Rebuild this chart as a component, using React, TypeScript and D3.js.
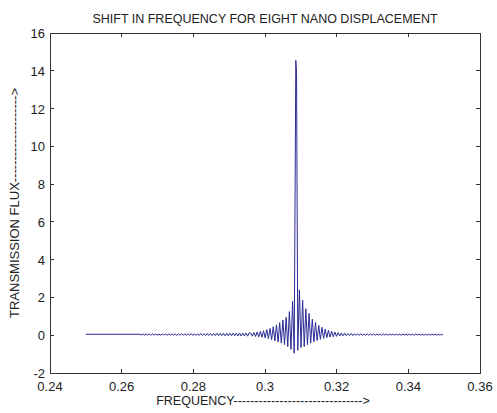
import React from 'react';
import * as d3 from 'd3';

// flat start of the trace
const flatFreq = [0.25, 0.265];
const flatFlux = [0.05, 0.05];

// small ripple before the resonance, sampled every 0.00045 from 0.265
const leftStart = 0.265;
const rippleStep = 0.00045;
const leftFlux = [
  0.06, 0.01, 0.07, 0.0, 0.07, 0.01, 0.06, 0.0, 0.07, 0.01,
  0.07, 0.0, 0.06, 0.0, 0.07, 0.01, 0.07, 0.0, 0.06, 0.0,
  0.07, 0.0, 0.07, -0.01, 0.07, 0.0, 0.08, 0.0, 0.07, -0.01,
  0.08, 0.0, 0.08, -0.01, 0.08, -0.01, 0.08, -0.01, 0.09, -0.01,
  0.08, -0.02, 0.09, -0.01, 0.09, -0.02, 0.09, -0.02, 0.1, -0.02,
  0.1, -0.02, 0.1, -0.03, 0.1, -0.03, 0.11, -0.03, 0.11, -0.03,
  0.11, -0.04, 0.12, -0.04, 0.11, -0.04, 0.12, -0.05, 0.12,
];

// resonance region
const centerFreq = [
  0.296, 0.29645, 0.2969, 0.29735, 0.2978, 0.29825, 0.2987, 0.29915, 0.2996, 0.30005,
  0.3005, 0.30095, 0.3014, 0.30185, 0.3023, 0.30275, 0.3032, 0.30365, 0.3041, 0.30455,
  0.305, 0.30545, 0.3059, 0.30635, 0.3068, 0.30725, 0.3077, 0.30815, 0.3086, 0.3088,
  0.30915, 0.3096, 0.31005, 0.3105, 0.31095, 0.3114, 0.31185, 0.3123, 0.31275, 0.3132,
  0.31365, 0.3141, 0.31455, 0.315, 0.31545, 0.3159, 0.31635, 0.3168, 0.31725, 0.3177,
  0.31815, 0.3186, 0.31905, 0.3195, 0.31995, 0.3204, 0.32085, 0.3213, 0.32175, 0.3222,
  0.32265, 0.3231,
];
const centerFlux = [
  0.12, -0.05, 0.14, -0.07, 0.17, -0.09, 0.2, -0.11, 0.24, -0.14,
  0.3, -0.18, 0.36, -0.24, 0.45, -0.3, 0.55, -0.36, 0.66, -0.42,
  0.8, -0.5, 0.95, -0.6, 1.25, -0.75, 1.8, -0.95, 14.55, 13.9,
  -0.8, 2.4, -0.65, 1.85, -0.6, 1.4, -0.5, 1.15, -0.42, 0.85,
  -0.35, 0.68, -0.28, 0.52, -0.22, 0.42, -0.17, 0.33, -0.13, 0.26,
  -0.1, 0.21, -0.08, 0.17, -0.06, 0.14, -0.04, 0.12, -0.03, 0.1,
  -0.02, 0.09,
];

// ripple after the resonance, sampled every 0.00045 from 0.3236
const rightStart = 0.3236;
const rightFlux = [
  -0.02, 0.09, -0.02, 0.08, -0.01, 0.08, -0.01, 0.08, -0.01, 0.07,
  0.0, 0.07, -0.01, 0.07, 0.0, 0.07, 0.0, 0.06, 0.0, 0.07,
  0.0, 0.06, 0.01, 0.06, 0.0, 0.06, 0.01, 0.06, 0.0, 0.06,
  0.01, 0.06, 0.0, 0.06, 0.01, 0.05, 0.0, 0.06, 0.01, 0.05,
  0.0, 0.06, 0.01, 0.05, 0.01, 0.06, 0.0, 0.05, 0.01, 0.05,
  0.0, 0.05, 0.01, 0.05, 0.01, 0.05, 0.0, 0.05, 0.02,
];

const xTicks = [0.24, 0.26, 0.28, 0.3, 0.32, 0.34, 0.36];
const yTicks = [-2, 0, 2, 4, 6, 8, 10, 12, 14, 16];

const W = 497;
const H = 413;
const margin = { left: 50, right: 17, top: 33, bottom: 40 };

const font = '"Liberation Sans", Arial, sans-serif';

export default function App() {
  const x = d3.scaleLinear().domain([0.24, 0.36]).range([margin.left, W - margin.right]);
  const y = d3.scaleLinear().domain([-2, 16]).range([H - margin.bottom, margin.top]);

  const points: [number, number][] = [
    ...flatFreq.map((f, i) => [f, flatFlux[i]] as [number, number]),
    ...leftFlux.map((v, i) => [leftStart + i * rippleStep, v] as [number, number]),
    ...centerFreq.map((f, i) => [f, centerFlux[i]] as [number, number]),
    ...rightFlux.map((v, i) => [rightStart + i * rippleStep, v] as [number, number]),
  ];

  const line = d3.line<[number, number]>()
    .x((d) => x(d[0]))
    .y((d) => y(d[1]));

  const x0 = margin.left;
  const x1 = W - margin.right;
  const y0 = H - margin.bottom;
  const y1 = margin.top;
  const tick = 4;

  return (
    <svg width={W} height={H} style={{ position: 'absolute', left: 0, top: 0, background: '#fff' }}>
      <text x={(x0 + x1) / 2} y={23} textAnchor="middle" fontFamily={font} fontSize={12.5} fill="#222">
        SHIFT IN FREQUENCY FOR EIGHT NANO DISPLACEMENT
      </text>

      <path d={line(points) || ''} fill="none" stroke="#2a2a96" strokeWidth={1} />

      <rect x={x0} y={y1} width={x1 - x0} height={y0 - y1} fill="none" stroke="#333" strokeWidth={1} shapeRendering="crispEdges" />

      {xTicks.map((t) => (
        <g key={'x' + t}>
          <line x1={x(t)} x2={x(t)} y1={y0} y2={y0 - tick} stroke="#333" shapeRendering="crispEdges" />
          <line x1={x(t)} x2={x(t)} y1={y1} y2={y1 + tick} stroke="#333" shapeRendering="crispEdges" />
          <text x={x(t)} y={y0 + 18} textAnchor="middle" fontFamily={font} fontSize={13} fill="#222">
            {String(t)}
          </text>
        </g>
      ))}

      {yTicks.map((t) => (
        <g key={'y' + t}>
          <line x1={x0} x2={x0 + tick} y1={y(t)} y2={y(t)} stroke="#333" shapeRendering="crispEdges" />
          <line x1={x1} x2={x1 - tick} y1={y(t)} y2={y(t)} stroke="#333" shapeRendering="crispEdges" />
          <text x={x0 - 5} y={y(t) + 5} textAnchor="end" fontFamily={font} fontSize={13} fill="#222">
            {String(t)}
          </text>
        </g>
      ))}

      <text x={263} y={405} textAnchor="middle" fontFamily={font} fontSize={12.5} fill="#222">
        FREQUENCY-------------------------------&gt;
      </text>
      <text
        transform={`translate(19,${(y0 + y1) / 2}) rotate(-90)`}
        textAnchor="middle"
        fontFamily={font}
        fontSize={13}
        fill="#222"
      >
        TRANSMISSION FLUX--------------------&gt;
      </text>
    </svg>
  );
}
